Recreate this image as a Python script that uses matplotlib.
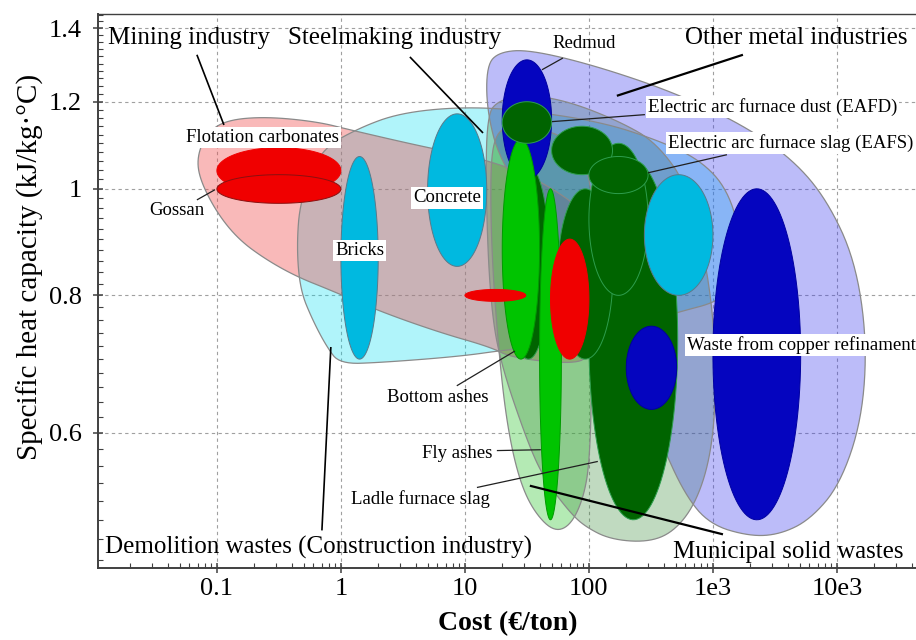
import numpy as np
import matplotlib
matplotlib.use("Agg")
import matplotlib.pyplot as plt
from matplotlib.patches import Polygon
from matplotlib.ticker import FixedLocator, MultipleLocator, NullFormatter, LogLocator

# --- DATA (cost in EUR/ton, specific heat in kJ/kg.C) ---
# bubble ranges: one entry per material, listed in drawing order
mat_names = ["Ladle furnace slag", "Steel slag B", "Steel slag C", "Steel slag D",
             "EAFS", "Steel residue", "Redmud", "Bottom ashes", "EAFD", "Fly ashes",
             "Mine residue A", "Mine residue B", "Flotation carbonates", "Gossan",
             "Bricks", "Concrete", "Ceramics", "Metal sludge",
             "Waste from copper refinament"]
mat_group = ["steel", "steel", "steel", "steel", "steel", "steel", "metal",
             "municipal", "steel", "municipal", "mining", "mining", "mining",
             "mining", "demolition", "demolition", "demolition", "metal", "metal"]
cost_lo = [100, 56, 100, 50, 100, 22, 20, 20, 20, 40, 49, 10, 0.1, 0.1, 1, 5, 280, 200, 1000]
cost_hi = [520, 156, 300, 155, 300, 48, 50, 40, 50, 60, 100, 31, 1, 1, 2, 15, 1000, 510, 5100]
cp_lo = [0.50, 0.70, 0.80, 1.03, 0.99, 0.70, 1.02, 0.70, 1.10, 0.50, 0.70, 0.79, 0.99, 0.97,
         0.70, 0.85, 0.80, 0.63, 0.50]
cp_hi = [1.06, 1.00, 1.10, 1.14, 1.07, 1.05, 1.31, 1.11, 1.20, 1.00, 0.90, 0.81, 1.09, 1.03,
         1.07, 1.17, 1.03, 0.75, 1.00]

# industry envelopes (outline vertices)
demolition_cost = [0.44, 0.47, 0.68, 1.4, 3.0, 9.1, 28, 123, 353, 785, 1320, 1710, 1500,
                   1080, 540, 178, 58, 22, 9.1, 2.1, 0.98, 0.77, 0.59, 0.47]
demolition_cp = [0.886, 0.977, 1.085, 1.136, 1.172, 1.187, 1.18, 1.151, 1.108, 1.063, 0.998,
                 0.899, 0.818, 0.789, 0.773, 0.745, 0.721, 0.714, 0.704, 0.695, 0.693,
                 0.718, 0.76, 0.809]
mining_cost = [0.069, 0.083, 0.12, 0.25, 0.64, 1.2, 4.3, 15, 40, 102, 123, 118, 102, 70,
               24, 16, 6.3, 2.1, 0.82, 0.44, 0.25, 0.15, 0.10, 0.073]
mining_cp = [1.069, 1.124, 1.155, 1.163, 1.151, 1.131, 1.094, 1.063, 1.019, 0.947, 0.862,
             0.76, 0.702, 0.693, 0.702, 0.718, 0.74, 0.773, 0.809, 0.832, 0.862, 0.899,
             0.951, 1.019]
municipal_cost = [16, 17.5, 23, 40, 70, 102, 112, 106, 102, 90, 70, 51, 35, 27, 22, 19, 16.5]
municipal_cp = [1.041, 1.12, 1.143, 1.136, 1.108, 1.041, 0.88, 0.699, 0.567, 0.522, 0.493,
                0.488, 0.511, 0.547, 0.608, 0.699, 0.862]
steel_cost = [15, 19, 33, 70, 178, 353, 653, 1000, 1060, 946, 716, 476, 294, 148, 93, 70,
              44, 32, 19, 16, 14.8]
steel_cp = [1.168, 1.205, 1.218, 1.2, 1.151, 1.101, 0.998, 0.793, 0.643, 0.567, 0.516,
            0.487, 0.477, 0.48, 0.493, 0.508, 0.544, 0.588, 0.699, 0.793, 0.977]
metal_cost = [15, 19, 33, 108, 476, 1750, 4420, 8300, 13960, 17460, 15920, 10570, 6050,
              3470, 1990, 946, 594, 374, 214, 102, 40, 19, 15]
metal_cp = [1.296, 1.332, 1.338, 1.296, 1.225, 1.143, 1.063, 0.977, 0.862, 0.729, 0.617,
            0.538, 0.5, 0.485, 0.483, 0.495, 0.527, 0.591, 0.67, 0.793, 0.937, 1.063, 1.18]

x_ticks = [0.1, 1, 10, 100, 1000, 10000]
x_ticklabels = ["0.1", "1", "10", "100", "1e3", "10e3"]
y_ticks = [0.6, 0.8, 1.0, 1.2, 1.4]
y_ticklabels = ["0.6", "0.8", "1", "1.2", "1.4"]

# --- STYLE ---
plt.rcParams["font.family"] = ["Liberation Serif", "DejaVu Serif"]
FILL = {"steel": "#006400", "metal": "#0505bf", "municipal": "#00c400",
        "mining": "#f00000", "demolition": "#00b9e0"}
EDGE = {"steel": "#2e9e4e", "metal": "#0000a0", "municipal": "#009a00",
        "mining": "#f00000", "demolition": "#5a7a8a"}


def smooth(xs, ys, n=3):
    """Chaikin corner cutting in log space -> rounded closed outline."""
    p = np.column_stack([np.log10(xs), np.log10(ys)])
    for _ in range(n):
        q = np.roll(p, -1, axis=0)
        p = np.column_stack([0.75 * p + 0.25 * q, 0.25 * p + 0.75 * q]).reshape(-1, 2)
    return 10 ** p


def bubble(ax, x0, x1, y0, y1, fc, ec, lw=0.7):
    t = np.linspace(0, 2 * np.pi, 120)
    cx, cy = np.log10(np.sqrt(x0 * x1)), np.log10(np.sqrt(y0 * y1))
    a, b = np.log10(x1 / x0) / 2, np.log10(y1 / y0) / 2
    pts = np.column_stack([10 ** (cx + a * np.cos(t)), 10 ** (cy + b * np.sin(t))])
    ax.add_patch(Polygon(pts, closed=True, facecolor=fc, edgecolor=ec, lw=lw, zorder=5))


fig = plt.figure(figsize=(9.16, 6.4), dpi=100)
ax = fig.add_axes([98 / 916, 72 / 640, 1 - 98 / 916, 554 / 640])
ax.set_xscale("log")
ax.set_yscale("log")
ax.set_xlim(0.011, 43400)
ax.set_ylim(0.452, 1.442)

# envelopes
envelopes = [(demolition_cost, demolition_cp, "#00dcf0", 0.31),
             (mining_cost, mining_cp, "#f05050", 0.40),
             (municipal_cost, municipal_cp, "#3cc83c", 0.38),
             (steel_cost, steel_cp, "#3c8c3c", 0.32),
             (metal_cost, metal_cp, "#3c3cf0", 0.34)]
for xs, ys, col, al in envelopes:
    ax.add_patch(Polygon(smooth(xs, ys), closed=True, facecolor=col, alpha=al,
                         edgecolor="none", zorder=2))
    ax.add_patch(Polygon(smooth(xs, ys), closed=True, facecolor="none",
                         edgecolor="#8a8a8a", lw=0.9, zorder=3))

for i in range(len(mat_names)):
    g = mat_group[i]
    ec = "#8a1010" if mat_names[i] == "Gossan" else EDGE[g]
    bubble(ax, cost_lo[i], cost_hi[i], cp_lo[i], cp_hi[i], FILL[g], ec)

# labels
big = 18
small = 13.5
box = dict(facecolor="white", edgecolor="none", pad=1.5)

def label(txt, x, y, size, ha="left", boxed=False):
    ax.text(x, y, txt, fontsize=size, ha=ha, va="center", zorder=21,
            bbox=box if boxed else None)

def leader(x0, y0, x1, y1, lw=0.9, color="#202020"):
    ax.plot([x0, x1], [y0, y1], color=color, lw=lw, zorder=20, solid_capstyle="butt")

label("Mining industry", 0.0132, 1.372, big)
leader(0.069, 1.324, 0.114, 1.143, lw=1.2, color="black")
label("Steelmaking industry", 0.374, 1.372, big)
leader(3.6, 1.318, 14.0, 1.124, lw=1.2, color="black")
label("Other metal industries", 594, 1.372, big)
leader(1746, 1.324, 168, 1.215, lw=1.6, color="black")
label("Redmud", 51.2, 1.355, small)
leader(61.7, 1.315, 41.8, 1.283)
label("Electric arc furnace dust (EAFD)", 299, 1.187, small, boxed=True)
leader(283, 1.168, 50.3, 1.151)
label("Electric arc furnace slag (EAFS)", 434, 1.101, small, boxed=True)
leader(1297, 1.074, 299, 1.034)
label("Flotation carbonates", 0.233, 1.113, small, ha="center", boxed=True)
label("Gossan", 0.0475, 0.955, small, ha="center")
leader(0.069, 0.977, 0.0964, 0.998)
label("Concrete", 7.16, 0.981, small, ha="center", boxed=True)
label("Bricks", 1.42, 0.878, small, ha="center", boxed=True)
label("Waste from copper refinament", 5170, 0.721, small, ha="center", boxed=True)
label("Bottom ashes", 15.6, 0.646, small, ha="right")
leader(8.6, 0.662, 25.3, 0.712)
label("Fly ashes", 16.5, 0.575, small, ha="right")
leader(18.1, 0.578, 41, 0.579)
label("Ladle furnace slag", 15.9, 0.522, small, ha="right")
leader(12.5, 0.535, 118, 0.565)
label("Demolition wastes (Construction industry)", 0.0125, 0.472, big)
leader(0.703, 0.489, 0.83, 0.718, lw=1.2, color="black")
label("Municipal solid wastes", 476, 0.467, big)
leader(1205, 0.485, 33.4, 0.537, lw=1.6, color="black")

# axes cosmetics
ax.xaxis.set_major_locator(FixedLocator(x_ticks))
ax.set_xticklabels(x_ticklabels)
ax.xaxis.set_minor_locator(LogLocator(base=10, subs=np.arange(2, 10)))
ax.xaxis.set_minor_formatter(NullFormatter())
ax.yaxis.set_major_locator(FixedLocator(y_ticks))
ax.set_yticklabels(y_ticklabels)
ax.yaxis.set_minor_locator(MultipleLocator(0.02))
ax.yaxis.set_minor_formatter(NullFormatter())
ax.tick_params(which="major", direction="inout", length=7, width=1.1, color="#404040",
               labelsize=19, pad=4)
ax.tick_params(which="minor", direction="in", length=3.5, width=0.8, color="#404040")
ax.tick_params(axis="y", which="major", pad=8)

ax.grid(True, which="major", linestyle=(0, (3, 3)), color="#a0a0a0", lw=0.8)
ax.set_axisbelow(True)
for side in ["left", "bottom"]:
    ax.spines[side].set_color("#404040")
    ax.spines[side].set_linewidth(1.4)
ax.spines["top"].set_color("#404040")
ax.spines["top"].set_linewidth(1.0)
ax.spines["right"].set_visible(False)

fig.text(508 / 916, 1 - 624 / 640, "Cost (€/ton)", fontsize=20, fontweight="bold",
         ha="center", va="center")
fig.text(30 / 916, 1 - 267 / 640, "Specific heat capacity (kJ/kg·°C)", fontsize=21,
         rotation=90, ha="center", va="center")

fig.savefig("out.png", dpi=100)
